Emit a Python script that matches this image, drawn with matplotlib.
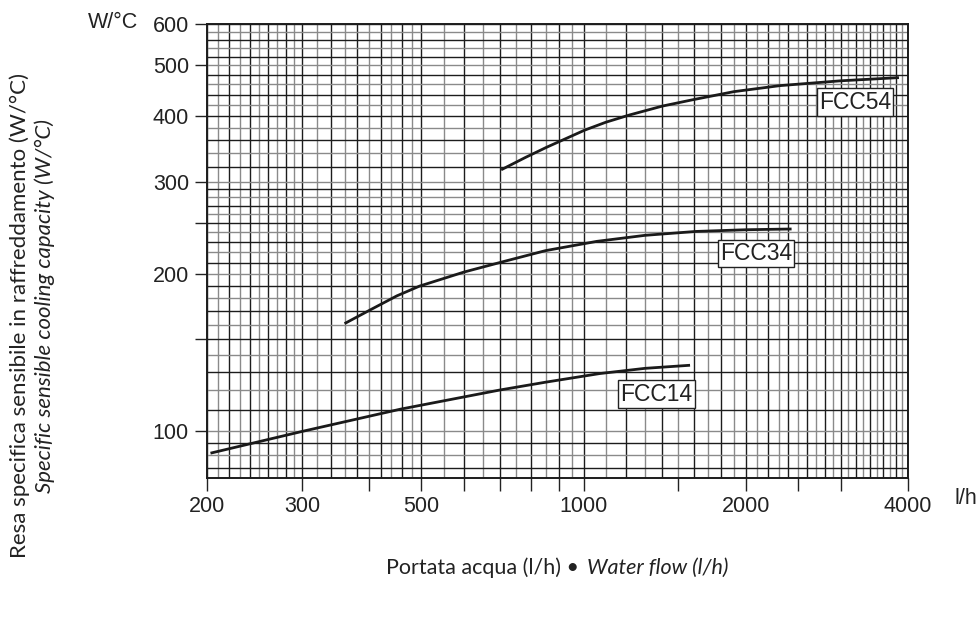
import numpy as np
import matplotlib
matplotlib.use("Agg")
import matplotlib.pyplot as plt
from matplotlib.ticker import FixedLocator, NullFormatter, NullLocator

# curves (water flow l/h, capacity W/°C)
FCC14_FLOW = [203, 300, 457, 699, 850, 1071, 1300, 1576]
FCC14_CAP = [90.9, 100, 110.3, 120, 124.2, 129, 132, 133.8]

FCC34_FLOW = [360, 401, 450, 496, 600, 709, 850, 1058, 1300, 1617, 2000, 2432]
FCC34_CAP = [160.7, 170.5, 181.5, 189.5, 201.6, 211, 221.5, 230.7, 236.9, 241, 242.8, 243.6]

FCC54_FLOW = [703, 780, 854, 1005, 1100, 1218, 1400, 1590, 1900, 2315, 3000, 3848]
FCC54_CAP = [316, 333.7, 349, 376.3, 389.6, 402.3, 418.2, 429.8, 445.6, 457.6, 467.4, 474]

# label boxes: (text, flow, capacity)
LABELS = [("FCC54", 3189, 425.6), ("FCC34", 2088, 218.9), ("FCC14", 1364, 117.8)]

X_TICKS = [200, 300, 400, 500, 600, 700, 800, 900, 1000, 1500, 2000, 2500, 3000, 4000]
X_TICK_LABELS = {200: "200", 300: "300", 500: "500", 1000: "1000", 2000: "2000", 4000: "4000"}
Y_TICKS = [100, 150, 200, 250, 300, 400, 500, 600]
Y_TICK_LABELS = {100: "100", 200: "200", 300: "300", 400: "400", 500: "500", 600: "600"}

# graph-paper grid
X_GRID = np.concatenate([np.arange(200, 300, 10), np.arange(300, 500, 20),
                         np.arange(500, 1000, 50), np.arange(1000, 4001, 100)])
Y_GRID = np.concatenate([[85, 90, 95], np.arange(100, 300, 10), np.arange(300, 601, 20)])

W, H = 979, 634
fig = plt.figure(figsize=(W / 100, H / 100), dpi=100)
ax = fig.add_axes([207 / W, 1 - 478 / H, (908 - 207) / W, (478 - 24) / H])
ax.set_xscale("log")
ax.set_yscale("log")
ax.set_xlim(200, 4000)
ax.set_ylim(81.5, 600)

for i, xv in enumerate(X_GRID):
    ax.axvline(xv, color="#1c1c1c" if i % 2 == 0 else "#8a8a8a", lw=1.0, zorder=1)
for i, yv in enumerate(Y_GRID):
    ax.axhline(yv, color="#1c1c1c" if i % 2 == 0 else "#8a8a8a", lw=1.0, zorder=1)

for flow, cap in ((FCC14_FLOW, FCC14_CAP), (FCC34_FLOW, FCC34_CAP), (FCC54_FLOW, FCC54_CAP)):
    ax.plot(flow, cap, color="#1a1a1a", lw=2.0, solid_capstyle="butt",
            solid_joinstyle="round", zorder=3)

for txt, xv, yv in LABELS:
    ax.text(xv, yv, txt, ha="center", va="center", fontsize=16.5, color="#222222",
            family="Liberation Sans", zorder=4,
            bbox=dict(boxstyle="square,pad=0.1", fc="white", ec="#222222", lw=1.0))

ax.xaxis.set_major_locator(FixedLocator(X_TICKS))
ax.xaxis.set_minor_locator(NullLocator())
ax.xaxis.set_minor_formatter(NullFormatter())
ax.set_xticklabels([X_TICK_LABELS.get(t, "") for t in X_TICKS])
ax.yaxis.set_major_locator(FixedLocator(Y_TICKS))
ax.yaxis.set_minor_locator(NullLocator())
ax.yaxis.set_minor_formatter(NullFormatter())
ax.set_yticklabels([Y_TICK_LABELS.get(t, "") for t in Y_TICKS])
ax.tick_params(direction="out", length=9, width=1.0, color="#222222",
               labelsize=15.5, labelcolor="#222222", pad=4)
for lab in ax.get_xticklabels() + ax.get_yticklabels():
    lab.set_family("Liberation Sans")
for sp in ax.spines.values():
    sp.set_color("#1c1c1c")
    sp.set_linewidth(1.4)

fig.text(138 / W, 1 - 22 / H, "W/°C", ha="right", va="center", fontsize=15.5,
         color="#222222", family="Liberation Sans")
fig.text(955 / W, 1 - 498 / H, "l/h", ha="left", va="center", fontsize=15.5,
         color="#222222", family="Liberation Sans")

fig.text(20 / W, 1 - 316 / H, "Resa specifica sensibile in raffreddamento (W/°C)",
         rotation=90, ha="center", va="center", fontsize=16, color="#222222", family="Lato")
fig.text(45 / W, 1 - 306 / H, "Specific sensible cooling capacity (W/°C)",
         rotation=90, ha="center", va="center", fontsize=16, color="#222222", family="Lato",
         style="italic")

fig.text(585 / W, 1 - 568 / H, "Portata acqua (l/h) • ", ha="right", va="center",
         fontsize=15.5, color="#222222", family="Lato")
fig.text(587 / W, 1 - 568 / H, "Water flow (l/h)", ha="left", va="center",
         fontsize=15.5, color="#222222", family="Lato", style="italic")

fig.savefig("out.png", dpi=100)
